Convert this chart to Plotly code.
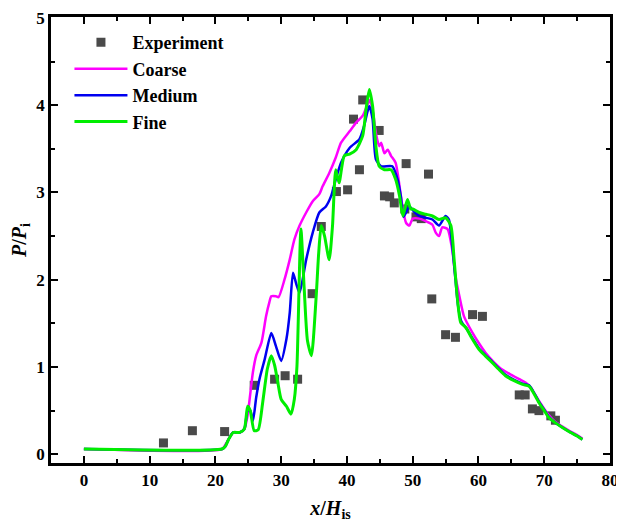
import plotly.graph_objects as go

# Experiment
exp_x = [12.1, 16.5, 21.4, 25.9, 29.0, 30.6, 32.5, 34.7, 36.1, 38.4, 40.1, 41.0, 41.9, 42.4,
         44.9, 45.7, 46.5, 47.2, 48.8, 49.0, 50.5, 51.3, 52.4, 52.9, 55.0, 56.5, 59.1, 60.6,
         66.2, 67.1, 68.2, 69.2, 71.0, 71.7]
exp_y = [0.13, 0.27, 0.26, 0.79, 0.86, 0.90, 0.86, 1.84, 2.61, 3.01, 3.03, 3.84, 3.26, 4.06,
         3.71, 2.96, 2.95, 2.88, 2.81, 3.33, 2.72, 2.70, 3.21, 1.78, 1.37, 1.34, 1.60, 1.58,
         0.68, 0.68, 0.52, 0.50, 0.44, 0.39]

# Coarse
coarse_x = [0, 21.0, 21.6, 22.2, 22.7, 23.7, 24.4, 24.9, 25.2, 25.7, 26.2, 27.0, 27.7, 28.2, 28.5,
            29.2, 29.6, 30.5, 31.3, 32.0, 32.8, 33.8, 34.8, 35.8, 36.3, 37.3, 38.3, 39.1, 40.4,
            41.4, 42.4, 43.1, 43.5, 44.0, 44.4, 44.9, 45.2, 45.7, 46.2, 46.7, 47.4, 48.0, 48.5,
            49.0, 49.5, 50.0, 51.0, 52.0, 53.0, 53.5, 54.0, 54.5, 55.3, 56.0, 56.5, 57.1, 57.8,
            59.1, 60.0, 61.1, 62.3, 63.6, 65.0, 66.2, 67.2, 68.0, 69.2, 70.0, 70.7, 71.7, 72.7,
            74.0, 75.0, 75.8]
coarse_y = [0.06, 0.06, 0.12, 0.20, 0.25, 0.25, 0.29, 0.45, 0.63, 0.94, 1.13, 1.28, 1.58, 1.74, 1.81,
            1.81, 1.80, 2.00, 2.23, 2.46, 2.62, 2.77, 2.90, 2.98, 3.07, 3.22, 3.40, 3.57, 3.70,
            3.80, 3.88, 4.00, 4.06, 3.90, 3.68, 3.53, 3.57, 3.45, 3.49, 3.42, 3.34, 3.07, 2.81,
            2.65, 2.62, 2.70, 2.70, 2.67, 2.63, 2.54, 2.50, 2.60, 2.58, 2.35, 2.04, 1.81, 1.58,
            1.39, 1.28, 1.16, 1.06, 0.97, 0.91, 0.86, 0.82, 0.76, 0.61, 0.52, 0.45, 0.37, 0.32,
            0.26, 0.22, 0.18]

# Medium
medium_x = [0, 21.0, 21.5, 22.0, 22.7, 23.7, 24.4, 24.9, 25.3, 25.7, 26.2, 26.7, 27.5, 28.5, 29.2,
            30.0, 30.8, 31.3, 31.8, 32.3, 32.8, 33.8, 34.8, 35.8, 36.8, 37.6, 38.3, 39.1, 40.4,
            41.9, 42.6, 43.4, 43.9, 44.4, 45.2, 46.9, 47.7, 48.2, 48.6, 49.5, 50.2, 51.0, 52.0,
            53.0, 54.0, 55.0, 55.5, 56.0, 56.5, 56.9, 57.4, 58.1, 59.0, 60.1, 61.0, 62.1, 63.0,
            64.1, 65.5, 66.7, 67.7, 68.4, 69.2, 70.0, 70.7, 71.7, 72.7, 74.0, 75.0, 75.8]
medium_y = [0.06, 0.06, 0.09, 0.17, 0.25, 0.25, 0.29, 0.50, 0.50, 0.38, 0.65, 0.86, 1.09, 1.39, 1.24,
            1.07, 1.32, 1.62, 2.08, 1.95, 1.85, 2.23, 2.54, 2.77, 2.84, 2.96, 3.15, 3.34, 3.51,
            3.61, 3.76, 3.99, 3.84, 3.38, 3.30, 3.30, 3.15, 2.95, 2.72, 2.84, 2.78, 2.73, 2.71,
            2.69, 2.62, 2.73, 2.69, 2.40, 2.00, 1.70, 1.52, 1.45, 1.34, 1.21, 1.14, 1.06, 0.99,
            0.91, 0.85, 0.81, 0.79, 0.71, 0.60, 0.51, 0.43, 0.36, 0.31, 0.25, 0.21, 0.17]

# Fine
fine_x = [0, 21.0, 21.5, 22.0, 22.7, 23.7, 24.4, 24.9, 25.3, 25.9, 26.5, 27.2, 27.9, 28.5, 29.0,
          29.5, 30.0, 30.8, 31.5, 32.0, 32.4, 33.0, 33.5, 34.0, 34.6, 35.3, 35.7, 36.1, 36.6,
          37.3, 37.8, 38.3, 38.8, 39.6, 40.4, 41.4, 42.4, 42.9, 43.4, 43.9, 44.4, 44.9, 45.7,
          46.7, 47.4, 48.0, 48.5, 49.2, 49.7, 50.0, 51.0, 52.0, 53.0, 54.0, 55.0, 55.8, 56.3,
          56.8, 57.3, 58.1, 59.0, 60.1, 61.0, 62.1, 63.0, 64.1, 65.5, 66.7, 67.7, 68.4, 69.2,
          70.0, 70.7, 71.7, 72.7, 74.0, 75.0, 75.8]
fine_y = [0.06, 0.06, 0.09, 0.17, 0.25, 0.25, 0.29, 0.55, 0.50, 0.27, 0.28, 0.60, 0.98, 1.13, 1.02,
          0.82, 0.63, 0.55, 0.46, 0.63, 1.01, 2.58, 1.90, 1.30, 1.13, 1.78, 2.30, 2.62, 2.50,
          2.23, 2.61, 3.26, 3.11, 3.42, 3.44, 3.49, 3.65, 3.95, 4.18, 3.99, 3.53, 3.30, 3.26,
          3.26, 3.15, 2.96, 2.73, 2.92, 2.81, 2.81, 2.77, 2.75, 2.73, 2.69, 2.71, 2.62, 2.23,
          1.78, 1.51, 1.45, 1.33, 1.20, 1.13, 1.05, 0.98, 0.90, 0.84, 0.80, 0.78, 0.70, 0.59,
          0.50, 0.42, 0.36, 0.31, 0.25, 0.21, 0.17]

x_ticks = [0, 10, 20, 30, 40, 50, 60, 70, 80]
y_ticks = [0, 1, 2, 3, 4, 5]

FONT = "Liberation Serif, Times New Roman, serif"

fig = go.Figure()
fig.add_trace(go.Scatter(x=exp_x, y=exp_y, mode="markers", name="Experiment",
                         marker=dict(symbol="square", size=9, color="#4a4a4a")))
fig.add_trace(go.Scatter(x=coarse_x, y=coarse_y, mode="lines", name="Coarse",
                         line=dict(color="#ff00ff", width=2.5, shape="spline", smoothing=0.6)))
fig.add_trace(go.Scatter(x=medium_x, y=medium_y, mode="lines", name="Medium",
                         line=dict(color="#0000f0", width=2.5, shape="spline", smoothing=0.6)))
fig.add_trace(go.Scatter(x=fine_x, y=fine_y, mode="lines", name="Fine",
                         line=dict(color="#00ee00", width=3, shape="spline", smoothing=0.6)))

axis_common = dict(
    showline=True, linecolor="black", linewidth=2.5, mirror="ticks",
    ticks="inside", ticklen=7, tickwidth=2, tickcolor="black",
    showgrid=False, zeroline=False, automargin=False, ticklabeloverflow="allow",
    tickfont=dict(family=FONT, size=17, color="black", weight="bold"),
)

fig.update_xaxes(range=[-5, 80], tickvals=x_ticks,
                 minor=dict(ticks="inside", dtick=5, ticklen=4, tickwidth=2, tickcolor="black"),
                 title=dict(text="<i>x</i>/<i>H</i><sub>is</sub>",
                            font=dict(family=FONT, size=20, color="black", weight="bold"),
                            standoff=12),
                 **axis_common)
fig.update_yaxes(range=[-0.1, 5.01], tickvals=y_ticks,
                 minor=dict(ticks="inside", dtick=0.5, ticklen=4, tickwidth=2, tickcolor="black"),
                 title=dict(text="<i>P</i>/<i>P</i><sub>i</sub>",
                            font=dict(family=FONT, size=20, color="black", weight="bold"),
                            standoff=8),
                 **axis_common)

# the page body adds an 8px offset, so the figure is 616x522 with margins compensated
fig.update_layout(
    width=616, height=522,
    margin=dict(l=43, r=14, t=9, b=67, autoexpand=False),
    paper_bgcolor="white", plot_bgcolor="white",
    showlegend=True,
    legend=dict(x=0.033, y=0.984, xanchor="left", yanchor="top",
                bgcolor="rgba(0,0,0,0)", borderwidth=0, itemwidth=53,
                font=dict(family=FONT, size=18, color="black", weight="bold"),
                tracegroupgap=0),
)

fig.write_html("out.html")
